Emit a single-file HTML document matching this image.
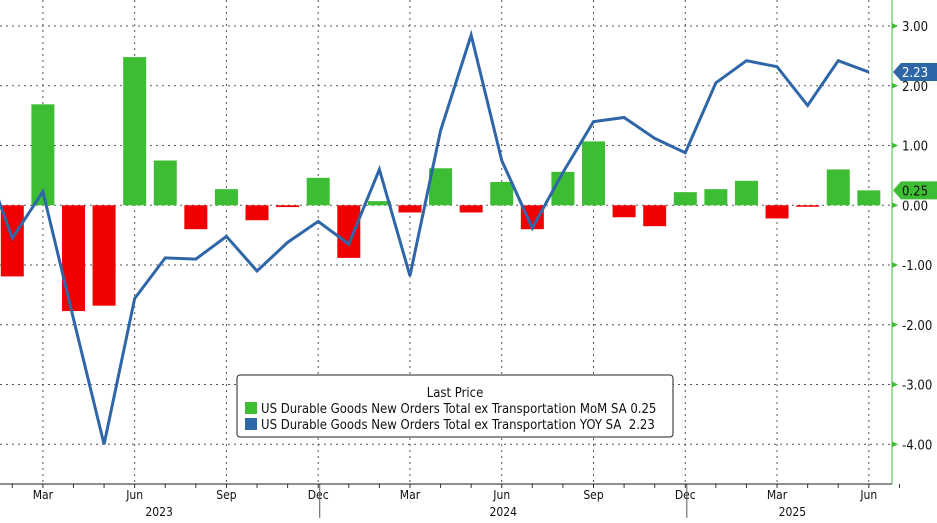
<!DOCTYPE html>
<html><head><meta charset="utf-8"><style>
body{margin:0;background:#fff;font-family:"Liberation Sans","DejaVu Sans",sans-serif;}
svg text{font-family:"DejaVu Sans Condensed","Liberation Sans",sans-serif;}
</style></head><body>
<svg id="chart" width="937" height="518" viewBox="0 0 937 518" xmlns="http://www.w3.org/2000/svg">
<g id="grid"></g>
<g id="bars"></g>
<g id="line"></g>
<g id="axes"></g>
<g>
<rect x="237" y="375" width="436" height="62" rx="3" fill="#fff" stroke="#222" stroke-width="1"/>
<text x="455" y="397" font-size="13" text-anchor="middle" fill="#111">Last Price</text>
<rect x="245" y="402" width="12" height="12" fill="#3cbd34"/>
<text x="261" y="413" font-size="13" fill="#111">US Durable Goods New Orders Total ex Transportation MoM SA 0.25</text>
<rect x="245" y="418" width="12" height="12" fill="#2f66a8"/>
<text x="261" y="429" font-size="13" fill="#111">US Durable Goods New Orders Total ex Transportation YOY SA&#160; 2.23</text>
</g>
</svg>
<script>
const months = ["Feb23","Mar23","Apr23","May23","Jun23","Jul23","Aug23","Sep23","Oct23","Nov23","Dec23","Jan24","Feb24","Mar24","Apr24","May24","Jun24","Jul24","Aug24","Sep24","Oct24","Nov24","Dec24","Jan25","Feb25","Mar25","Apr25","May25","Jun25"];
const momValues = [-1.19,1.69,-1.77,-1.68,2.48,0.75,-0.4,0.27,-0.25,-0.03,0.46,-0.88,0.07,-0.12,0.62,-0.12,0.39,-0.4,0.56,1.07,-0.2,-0.35,0.22,0.27,0.41,-0.22,-0.02,0.6,0.25];
const yoyStart = 0.87;
const yoyValues = [-0.55,0.23,-1.9,-4.0,-1.56,-0.88,-0.9,-0.52,-1.1,-0.62,-0.27,-0.65,0.6,-1.18,1.25,2.85,0.75,-0.38,0.55,1.4,1.47,1.12,0.88,2.05,2.42,2.32,1.67,2.42,2.23];
const yTicks = [3,2,1,0,-1,-2,-3,-4];
const monthLabels = [["Mar",1],["Jun",4],["Sep",7],["Dec",10],["Mar",13],["Jun",16],["Sep",19],["Dec",22],["Mar",25],["Jun",28]];
const yearLabels = [["2023",4.8],["2024",16.05],["2025",25.5]];

const NS="http://www.w3.org/2000/svg";
const X0=12.3, DX=30.59, Y0=205.3, DY=59.75, AXX=892, BOTTOM=484;
const xs=i=>X0+i*DX, ys=v=>Y0-v*DY;
function mk(tag,attrs,parent){const e=document.createElementNS(NS,tag);for(const k in attrs)e.setAttribute(k,attrs[k]);parent.appendChild(e);return e;}
const grid=document.getElementById('grid'),bars=document.getElementById('bars'),line=document.getElementById('line'),axes=document.getElementById('axes');

yTicks.forEach(v=>{
  const g=mk('line',{x1:0,x2:AXX,y1:ys(v),y2:ys(v),stroke:'#555','stroke-dasharray':'2,4','stroke-width':1},grid);
  
  
  const t=mk('text',{x:AXX+10,y:ys(v)+5,'font-size':13,fill:'#111'},axes);
  t.textContent=v.toFixed(2);
  
  
  const tk=mk('path',{d:`M${AXX} ${ys(v)-3}L${AXX+6} ${ys(v)}L${AXX} ${ys(v)+3}Z`,fill:'#3cbd34'},axes);
  
  
});
monthLabels.forEach(([m,i])=>{
  const g=mk('line',{x1:xs(i),x2:xs(i),y1:0,y2:BOTTOM,stroke:'#555','stroke-dasharray':'2,4','stroke-width':1},grid);
  
  
  const t=mk('text',{x:xs(i),y:499,'font-size':12,'text-anchor':'middle',fill:'#111'},axes);
  t.textContent=m;
  
  
});
yearLabels.forEach(([y,i])=>{
  const t=mk('text',{x:xs(i),y:516,'font-size':12,'text-anchor':'middle',fill:'#111'},axes);
  t.textContent=y;
  
  
});
[10.05,22.05].forEach(i=>{const s=mk('line',{x1:xs(i),x2:xs(i),y1:BOTTOM,y2:518,stroke:'#555'},axes);
  
  });
for(let i=-1;i<=29;i++){const t=mk('line',{x1:xs(i),x2:xs(i),y1:BOTTOM,y2:BOTTOM+4,stroke:'#333'},axes);
  
  }
const xa=mk('line',{x1:0,x2:AXX,y1:BOTTOM,y2:BOTTOM,stroke:'#222'},axes);


const ya=mk('line',{x1:AXX,x2:AXX,y1:0,y2:BOTTOM,stroke:'#3cbd34'},axes);



momValues.forEach((v,i)=>{
  const y=Math.min(ys(v),Y0),h=Math.max(Math.abs(ys(v)-Y0),1.5);
  const r=mk('rect',{x:xs(i)-11.5,y:y,width:23,height:h,fill:v>=0?'#3cbd34':'#f00000'},bars);
  
  
});
let d=`M${xs(-1)} ${ys(yoyStart)}`;
yoyValues.forEach((v,i)=>{d+=`L${xs(i)} ${ys(v)}`;});
const p=mk('path',{d:d,fill:'none',stroke:'#2f66a8','stroke-width':3,'stroke-linejoin':'miter'},line);



function tag(v,color,name){
  const y=ys(v);
  const g=mk('g',{},axes);
  
  
  mk('path',{d:`M${AXX+1} ${y}L${AXX+9} ${y-9}L937 ${y-9}L937 ${y+9}L${AXX+9} ${y+9}Z`,fill:color},g);
  const t=mk('text',{x:AXX+10,y:y+5,'font-size':13,fill:color==='#2f66a8'?'#fff':'#111'},g);
  t.textContent=v.toFixed(2);
}
tag(yoyValues[yoyValues.length-1],'#2f66a8','last-value-yoy');
tag(momValues[momValues.length-1],'#3cbd34','last-value-mom');
</script>
</body></html>
